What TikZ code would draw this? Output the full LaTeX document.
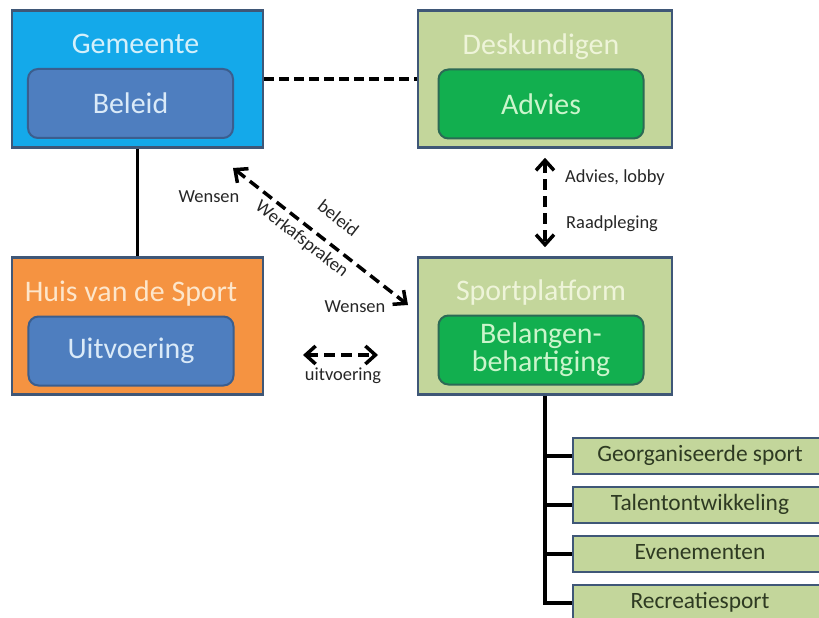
\documentclass[tikz,border=0pt]{standalone}
\usepackage{fontspec}
\setmainfont{Carlito}
\usetikzlibrary{arrows.meta,positioning}
\definecolor{gemblue}{HTML}{14A9EA}
\definecolor{innerblue}{HTML}{4E7EBF}
\definecolor{inneredge}{HTML}{3B5E8E}
\definecolor{olive}{HTML}{C3D69B}
\definecolor{leaf}{HTML}{12AF4F}
\definecolor{leafedge}{HTML}{2C6A55}
\definecolor{huis}{HTML}{F59341}
\definecolor{frame}{HTML}{3F5777}
\definecolor{palecyan}{HTML}{D4F0FB}
\definecolor{paleblue}{HTML}{DAEAF8}
\definecolor{paleolive}{HTML}{EEF4D9}
\definecolor{paleleaf}{HTML}{CBF5CC}
\definecolor{paleorange}{HTML}{FDE6CB}
\definecolor{itemtext}{HTML}{2E3A22}
\tikzset{
  outer/.style={draw=frame,line width=2.5bp,minimum width=251bp,minimum height=137bp,inner sep=0pt},
  innerbox/.style={rounded corners=10bp,line width=2bp,minimum width=205bp,minimum height=69bp,align=center,inner sep=0pt,font=\fontsize{30}{28}\selectfont},
  title/.style={anchor=base,inner sep=0pt,font=\fontsize{30}{30}\selectfont},
  item/.style={draw=frame,fill=olive,line width=2.5bp,minimum width=254bp,minimum height=36bp,inner sep=0pt,text height=15bp,text depth=5bp,text=itemtext,font=\fontsize{23.5}{24}\selectfont},
  tag/.style={inner sep=0pt,text height=12bp,text depth=4bp,text=black!85,font=\fontsize{18.5}{19}\selectfont},
  dashline/.style={line width=4.5bp,dash pattern=on 10bp off 5bp},
  solidline/.style={line width=3bp},
  twoway/.style={{Straight Barb[length=10bp,width=18bp]}-{Straight Barb[length=10bp,width=18bp]},line width=3.5bp,dash pattern=on 11bp off 6bp},
  tree/.style={line width=3.5bp},
}

\begin{document}
\begin{tikzpicture}[x=1bp,y=-1bp]
\useasboundingbox (0,0) rectangle (819,618);
\clip (0,0) rectangle (819,618);

% four blocks
\node[outer,fill=gemblue] (gem) at (137.5,79) {};
\node[outer,fill=olive,minimum width=254bp] (desk) at (545,79) {};
\node[outer,fill=huis] (huis) at (137.5,326) {};
\node[outer,fill=olive,minimum width=254bp] (sport) at (545,326) {};

\node[innerbox,fill=innerblue,draw=inneredge,text=paleblue] (beleid) at (130.5,103.5) {Beleid};
\node[innerbox,fill=leaf,draw=leafedge,text=paleleaf] (advies) at (541,104) {Advies};
\node[innerbox,fill=innerblue,draw=inneredge,text=paleblue] (uitv) at (131,351) {Uitvoering};
\node[innerbox,fill=leaf,draw=leafedge,text=paleleaf] (belang) at (541,350) {Belangen-\\behartiging};

\node[title,text=palecyan] (gemtitle) at ([xshift=5bp,yshift=14bp]beleid.north) {Gemeente};
\node[title,text=paleolive] (desktitle) at ([yshift=14bp]advies.north) {Deskundigen};
\node[title,text=paleorange] (huistitle) at ([yshift=14bp]uitv.north) {Huis van de Sport};
\node[title,text=paleolive] (sporttitle) at ([yshift=14bp]belang.north) {Sportplatform};

% connectors
\draw[dashline] (gem) -- (desk);
\draw[solidline] (gem) -- (huis);
\draw[twoway,shorten <=9bp,shorten >=9bp] (desk) -- (sport);

\coordinate (wensA) at (233,168);
\coordinate (wensB) at (408,305);
\draw[twoway] (wensA) -- (wensB);

\coordinate (uitvL) at (303,355);
\coordinate (uitvR) at (378,355);
\draw[twoway] (uitvL) -- (uitvR);

% labels
\node[tag] (wens1) at (209,199) {Wensen};
\node[tag,rotate=-38] (bel) at (337,220) {beleid};
\node[tag,rotate=-38] (werk) at (301,240) {Werkafspraken};
\node[tag] (wens2) at (355,308) {Wensen};
\node[tag] (uitvlbl) at (343,376) {uitvoering};
\node[tag,anchor=west] (advlbl) at (565,179) {Advies, lobby};
\node[tag,anchor=west] (raad) at (566,225) {Raadpleging};

% tree below the platform
\node[item] (org) at (700,456) {Georganiseerde sport};
\node[item,below=10.5bp of org] (tal) {Talentontwikkeling};
\node[item,below=10.5bp of tal] (eve) {Evenementen};
\node[item,below=10.5bp of eve] (rec) {Recreatiesport};

\foreach \n in {org,tal,eve,rec}
  \draw[tree] (sport.south) |- (\n.west);

\end{tikzpicture}
\end{document}
